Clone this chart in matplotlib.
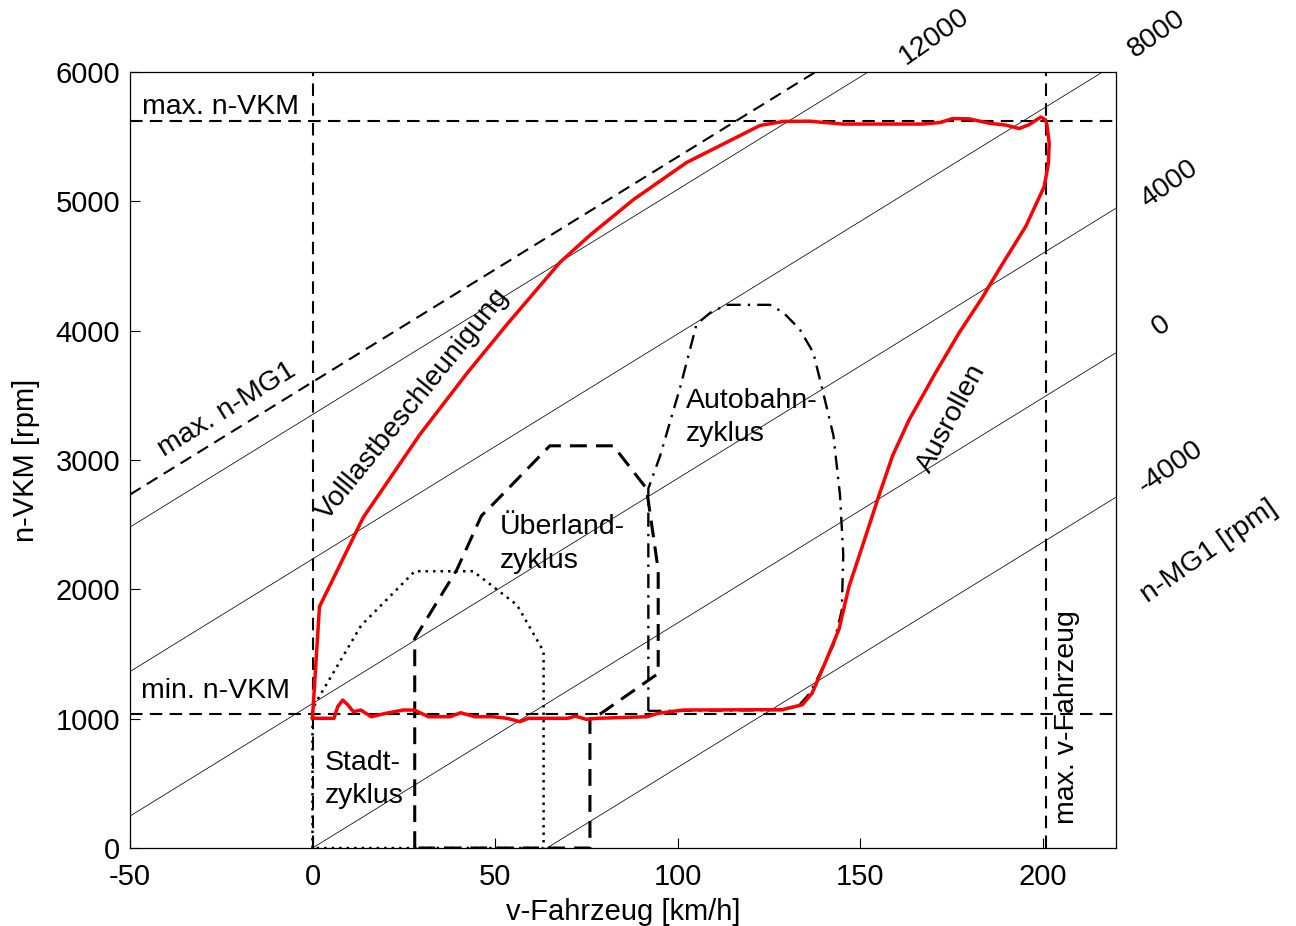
import numpy as np
import matplotlib
matplotlib.use("Agg")
import matplotlib.pyplot as plt

plt.rcParams['font.family'] = ['Liberation Sans', 'DejaVu Sans']
plt.rcParams['font.size'] = 20.5
plt.rcParams['axes.unicode_minus'] = False

# Kinematik Planetengetriebe: n-VKM = SLOPE * v + K_MG1 * n-MG1
SLOPE = 17.4        # rpm pro km/h
K_MG1 = 0.2793
mg1_levels = [-4000, 0, 4000, 8000, 12000]
mg1_max = 12900
v_range = [-50, 220]

n_vkm_max = 5620
n_vkm_min = 1040
v_max = 201

# Messkurve (Volllast, Ausrollen, Konstantfahrt)
red_v = [0, 0.2, 1.9, 13.9, 29.4, 42.2, 53.2, 67.8, 76, 87.9, 102.5, 115.3, 122.6, 129,
         136, 145.2, 167.1, 172, 175.3, 179.9, 185.4, 189.9, 193.6, 196.3, 199.5, 200.8, 201.2,
         201.8, 201.6, 201.0, 200.4, 195.4, 188, 183.5, 177.1, 170.7, 163.4, 158.9, 155.2,
         150.6, 147, 144.2, 140.6, 136.9, 134.2, 128.7,
         101.5, 94.6, 91.6, 77.9, 75, 72, 70, 59.2, 56.8, 53.3, 49.4, 44.5, 40.6, 37.7,
         31.8, 27.9, 24.9, 20, 16.1, 13.2, 11.2, 9.7, 8.3, 6.9, 5.9, 0.5, 0]
red_n = [1010, 1100, 1866, 2556, 3197, 3667, 4046, 4529, 4738, 5013, 5301, 5483, 5587, 5618,
         5620, 5598, 5598, 5610, 5640, 5638, 5604, 5590, 5563, 5593, 5652, 5630, 5590,
         5450, 5300, 5200, 5112, 4807, 4470, 4257, 3982, 3676, 3309, 3033, 2728,
         2331, 2025, 1689, 1444, 1199, 1108, 1070,
         1067, 1041, 1015, 1003, 995, 1020, 1003, 1003, 977, 1003, 1015, 1015, 1046, 1015,
         1015, 1067, 1067, 1041, 1015, 1067, 1054, 1106, 1144, 1093, 1003, 1003, 1010]

# Zyklusbereiche
stadt_v = [0, 0, 0.8, 13.3, 28, 44, 56, 63.3, 63.3, 0]
stadt_n = [0, 1050, 1120, 1720, 2140, 2140, 1880, 1520, 0, 0]

ueber_v = [28, 28, 39.5, 46.3, 49.5, 65, 82.4, 91.5, 94.7, 94.7, 79, 76, 76, 28]
ueber_n = [0, 1620, 2150, 2570, 2660, 3110, 3110, 2780, 2150, 1350, 1040, 1000, 0, 0]

auto_v = [92, 92, 95.2, 100.7, 105.2, 109, 113.4, 125.3, 129, 133.5, 137.2, 139.9, 142.7,
          144.5, 145.4, 145, 142.7, 139, 136.3, 133.5, 130, 92]
auto_n = [1060, 2780, 3030, 3560, 4050, 4140, 4200, 4200, 4140, 4010, 3830, 3520, 3190,
          2730, 2270, 1840, 1570, 1350, 1200, 1110, 1067, 1060]

fig = plt.figure(figsize=(12.96, 9.26), dpi=100)
ax = fig.add_axes([0.1003, 0.0842, 0.7605, 0.838])

# Linien konstanter n-MG1
vv = np.array(v_range, dtype=float)
for lvl in mg1_levels:
    ax.plot(vv, SLOPE * vv + K_MG1 * lvl, color='black', lw=0.55)
ax.plot(vv, SLOPE * vv + K_MG1 * mg1_max, color='black', lw=1.5, ls=(0, (6, 3.5)))

# Grenzen
ax.axhline(n_vkm_max, color='black', lw=1.5, ls=(0, (6, 3.5)))
ax.axhline(n_vkm_min, color='black', lw=1.5, ls=(0, (6, 3.5)))
ax.axvline(0, color='black', lw=1.5, ls=(0, (6, 3.5)))
ax.axvline(v_max, color='black', lw=1.5, ls=(0, (6, 3.5)))

ax.plot(stadt_v, stadt_n, color='black', lw=1.8, ls=(0, (1, 2)))
ax.plot(ueber_v, ueber_n, color='black', lw=2.2, ls=(0, (5.5, 3)))
ax.plot(auto_v, auto_n, color='black', lw=1.7, ls=(0, (6, 3, 1, 3)))

ax.plot(red_v, red_n, color='red', lw=2.5, zorder=5)

ax.set_xlim(-50, 220)
ax.set_ylim(0, 6000)
ax.set_xticks([-50, 0, 50, 100, 150, 200])
ax.set_yticks(range(0, 6001, 1000))
ax.tick_params(direction='in', length=7, width=0.8, labelsize=21,
               top=False, right=False)
ax.tick_params(axis='x', pad=11)
ax.tick_params(axis='y', pad=7)
for s in ax.spines.values():
    s.set_linewidth(0.9)
ax.set_xlabel('v-Fahrzeug [km/h]', fontsize=21, labelpad=5)
ax.set_ylabel('n-VKM [rpm]', fontsize=21, labelpad=11)

# Beschriftungen im Diagramm
ax.text(-46.6, 5673, 'max. n-VKM')
ax.text(-47, 1158, 'min. n-VKM')
ax.text(-23.4, 3387, 'max. n-MG1', rotation=31.8, rotation_mode='anchor',
        ha='center', va='center')
ax.text(27.6, 3434, 'Volllastbeschleunigung', rotation=51, rotation_mode='anchor',
        ha='center', va='center')
ax.text(175, 3324, 'Ausrollen', rotation=62, rotation_mode='anchor',
        ha='center', va='center')
ax.text(206.8, 1015, 'max. v-Fahrzeug', rotation=90, ha='center', va='center')

cycle_labels = [('Stadt-', 3.4, 603), ('zyklus', 3.4, 348),
                ('Überland-', 51.3, 2425), ('zyklus', 51.3, 2165),
                ('Autobahn-', 102.2, 3406), ('zyklus', 102.2, 3145)]
for txt, x, y in cycle_labels:
    ax.text(x, y, txt, ha='left', va='baseline')

# n-MG1 Skala rechts
mg1_labels = [('12000', 170.2, 6272), ('8000', 231.3, 6295), ('4000', 234.8, 5135),
              ('0', 232.5, 4039), ('-4000', 235.2, 2943), ('n-MG1 [rpm]', 245.7, 2291)]
for txt, x, y in mg1_labels:
    ax.text(x, y, txt, rotation=35, rotation_mode='anchor', ha='center', va='center',
            clip_on=False)

fig.savefig('out.png', dpi=100)
